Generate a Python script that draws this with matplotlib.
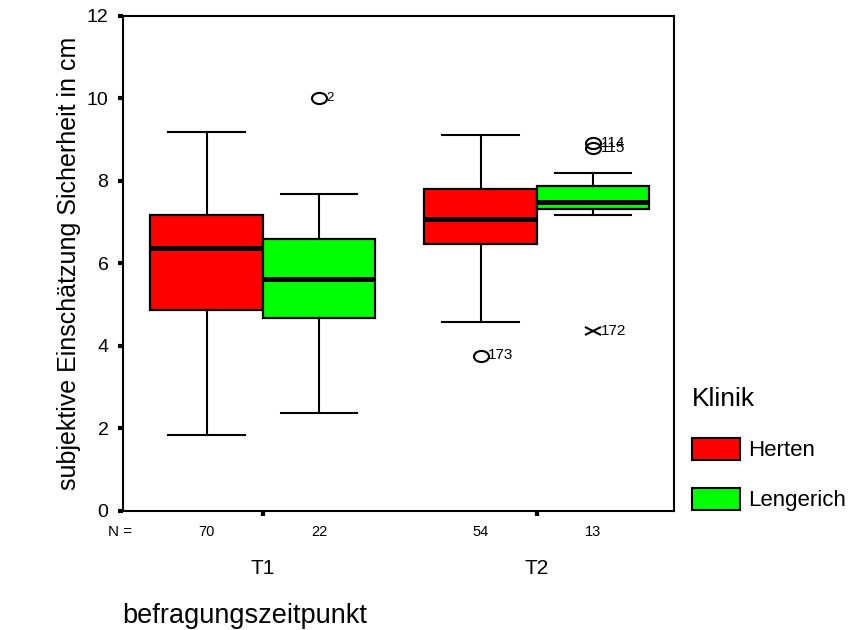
import matplotlib
matplotlib.use("Agg")
import matplotlib.pyplot as plt
from matplotlib.markers import MarkerStyle
from matplotlib.patches import Rectangle
from matplotlib.transforms import Affine2D, blended_transform_factory

plt.rcParams['font.family'] = ['Liberation Sans', 'DejaVu Sans']

# data
zeitpunkte = ['T1', 'T2']
kliniken = ['Herten', 'Lengerich']
farben = ['#ff0000', '#00ff00']
n_herten = [70, 54]
n_lengerich = [22, 13]

herten_whislo = [1.84, 4.58]
herten_q1 = [4.87, 6.46]
herten_med = [6.38, 7.08]
herten_q3 = [7.17, 7.80]
herten_whishi = [9.19, 9.11]

lengerich_whislo = [2.37, 7.17]
lengerich_q1 = [4.67, 7.31]
lengerich_med = [5.62, 7.49]
lengerich_q3 = [6.58, 7.88]
lengerich_whishi = [7.68, 8.18]

# outliers (circles) and extremes (crosses): zeitpunkt index, klinik index, value, case no.
ausr_t = [0, 1, 1, 1]
ausr_k = [1, 0, 1, 1]
ausr_y = [10.0, 3.76, 8.91, 8.79]
ausr_id = ['2', '173', '114', '115']

extr_t = [1]
extr_k = [1]
extr_y = [4.37]
extr_id = ['172']

breite = 0.41
versatz = [-0.205, 0.205]

fig = plt.figure(figsize=(8.66, 6.3), dpi=100)
ax = fig.add_axes([0.142, 0.189, 0.636, 0.786])

stats, pos, cols = [], [], []
for t in range(len(zeitpunkte)):
    stats.append(dict(med=herten_med[t], q1=herten_q1[t], q3=herten_q3[t],
                      whislo=herten_whislo[t], whishi=herten_whishi[t], fliers=[]))
    pos.append(t + versatz[0])
    cols.append(farben[0])
    stats.append(dict(med=lengerich_med[t], q1=lengerich_q1[t], q3=lengerich_q3[t],
                      whislo=lengerich_whislo[t], whishi=lengerich_whishi[t], fliers=[]))
    pos.append(t + versatz[1])
    cols.append(farben[1])

bp = ax.bxp(stats, positions=pos, widths=breite, capwidths=0.28,
            patch_artist=True, showfliers=False,
            boxprops=dict(edgecolor='black', linewidth=1.6),
            medianprops=dict(color='black', linewidth=3.6, solid_capstyle='butt'),
            whiskerprops=dict(color='black', linewidth=1.5),
            capprops=dict(color='black', linewidth=1.5))
for b, c in zip(bp['boxes'], cols):
    b.set_facecolor(c)

kreis = MarkerStyle('o', fillstyle='none', transform=Affine2D().scale(1.35, 1.0))
kreuz = MarkerStyle('x', transform=Affine2D().scale(1.9, 1.0))

for t, k, y, lab in zip(ausr_t, ausr_k, ausr_y, ausr_id):
    x = t + versatz[k]
    ax.plot(x, y, marker=kreis, markersize=8, color='black', markeredgewidth=1.5,
            linestyle='none')
    fs = 9.5 if lab == '2' else 11
    ax.annotate(lab, (x, y), xytext=(5.5, 0.5), textcoords='offset points',
                ha='left', va='center', fontsize=fs)

for t, k, y, lab in zip(extr_t, extr_k, extr_y, extr_id):
    x = t + versatz[k]
    ax.plot(x, y, marker=kreuz, markersize=6, color='black', markeredgewidth=1.5,
            linestyle='none')
    ax.annotate(lab, (x, y), xytext=(6, 0), textcoords='offset points',
                ha='left', va='center', fontsize=11)

ax.set_xlim(-0.51, 1.50)
ax.set_ylim(0, 12)
ax.set_yticks([0, 2, 4, 6, 8, 10, 12])
ax.set_xticks(range(len(zeitpunkte)))
ax.set_xticklabels(zeitpunkte, fontsize=15)
ax.tick_params(axis='y', direction='out', length=3.5, width=3, pad=7, labelsize=14)
ax.tick_params(axis='x', direction='out', length=3.5, width=3, pad=31)
for s in ax.spines.values():
    s.set_linewidth(1.5)

# N = counts below the axis
tr = blended_transform_factory(ax.transData, ax.transAxes)
ax.text(-0.52, -0.043, 'N =', transform=tr, ha='center', va='center', fontsize=11)
for t in range(len(zeitpunkte)):
    ax.text(t + versatz[0], -0.043, str(n_herten[t]), transform=tr,
            ha='center', va='center', fontsize=10.5)
    ax.text(t + versatz[1], -0.043, str(n_lengerich[t]), transform=tr,
            ha='center', va='center', fontsize=10.5)

ax.set_ylabel('subjektive Einschätzung Sicherheit in cm', fontsize=18, labelpad=4)
fig.text(122 / 866, 1 - 616 / 630, 'befragungszeitpunkt', fontsize=19.5,
         ha='left', va='center')

handles = [Rectangle((0, 0), 1, 1, facecolor=c, edgecolor='black', linewidth=1.5)
           for c in farben]
leg = fig.legend(handles, kliniken, title='Klinik', loc='upper left',
                 bbox_to_anchor=(0.7865, 0.403), frameon=False, fontsize=16,
                 title_fontsize=19, alignment='left', borderpad=0,
                 handlelength=2.16, handleheight=1.12, handletextpad=0.36,
                 labelspacing=1.2)

fig.savefig('out.png', dpi=100)
